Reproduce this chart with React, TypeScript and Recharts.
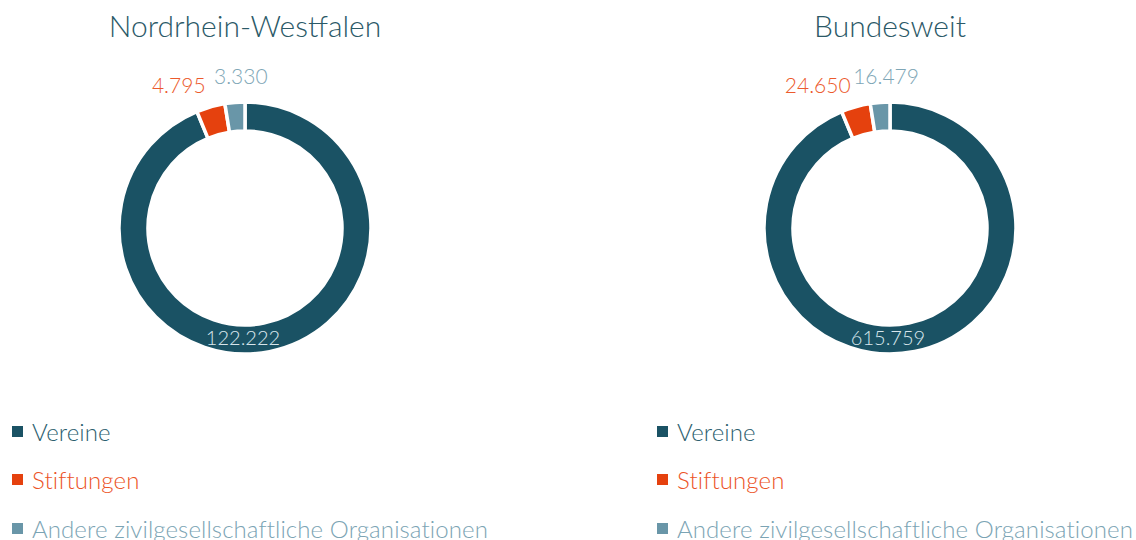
import { PieChart, Pie, Cell } from "recharts"

const categories = ["Vereine", "Stiftungen", "Andere zivilgesellschaftliche Organisationen"]
const nrwValues = [122222, 4795, 3330]
const bundValues = [615759, 24650, 16479]
const titles = ["Nordrhein-Westfalen", "Bundesweit"]

const sliceColors = ["#1a5264", "#e5410e", "#6996a8"]
const labelColors = ["#d8e6ec", "#ec5a2c", "#7ea6b6"]
const legendColors = ["#2c5e6e", "#ec5326", "#7ba4b4"]
const FONT = "Lato, 'Open Sans', sans-serif"

const RAD = Math.PI / 180

const fmt = (v: number) => v.toLocaleString("de-DE")

function SliceLabel(props: any) {
  const { cx, cy, midAngle, innerRadius, outerRadius, index, value } = props
  if (index === 0) {
    const r = (innerRadius + outerRadius) / 2
    return (
      <text x={cx - 2} y={cy + r - 3} fill={labelColors[0]} fontSize={20} fontFamily={FONT} fontWeight={300}
        textAnchor="middle" dominantBaseline="central">
        {fmt(value)}
      </text>
    )
  }
  const r = outerRadius + 26
  const x = cx + r * Math.cos(-midAngle * RAD)
  const y = cy + r * Math.sin(-midAngle * RAD)
  return (
    <text x={index === 1 ? x + 2 : x + 8} y={index === 1 ? y + 3 : y - 1} fill={labelColors[index]} fontSize={21} fontFamily={FONT} fontWeight={300}
      textAnchor={index === 1 ? "end" : "middle"} dominantBaseline="central">
      {fmt(value)}
    </text>
  )
}

const makeData = (vals: number[]) => categories.map((name, i) => ({ name, value: vals[i] }))

const panels = [
  { title: titles[0], data: makeData(nrwValues), cx: 245, legendX: 12 },
  { title: titles[1], data: makeData(bundValues), cx: 890, legendX: 657 },
]

export default function App() {
  return (
    <div style={{ position: "absolute", left: 0, top: 0, width: 1136, height: 540, background: "#fff", fontFamily: FONT, overflow: "hidden" }}>
      <div style={{ position: "absolute", left: 0, top: 0 }}>
        <PieChart width={1136} height={400} margin={{ top: 0, right: 0, bottom: 0, left: 0 }}>
          {panels.map((p, k) => (
            <Pie
              key={k}
              data={p.data}
              dataKey="value"
              nameKey="name"
              cx={p.cx}
              cy={228}
              innerRadius={97}
              outerRadius={126}
              startAngle={90}
              endAngle={-270}
              stroke="#fff"
              strokeWidth={3.5}
              label={SliceLabel}
              labelLine={false}
              isAnimationActive={false}
            >
              {p.data.map((_, i) => (
                <Cell key={i} fill={sliceColors[i]} />
              ))}
            </Pie>
          ))}
        </PieChart>
      </div>
      {panels.map((p, k) => (
        <div key={"t" + k} style={{ position: "absolute", left: p.cx - 200, width: 400, top: 7, textAlign: "center", fontSize: 30, fontWeight: 300, color: "#2b5967", lineHeight: "36px" }}>
          {p.title}
        </div>
      ))}
      {panels.map((p, k) =>
        categories.map((c, i) => (
          <div key={"l" + k + i} style={{ position: "absolute", left: p.legendX, top: 416 + i * 48.5, height: 30, display: "flex", alignItems: "center", whiteSpace: "nowrap" }}>
            <span style={{ width: 11, height: 11, background: sliceColors[i], display: "inline-block", marginRight: 9 }} />
            <span style={{ fontSize: 24, fontWeight: 300, color: legendColors[i], letterSpacing: 0.1 }}>{c}</span>
          </div>
        ))
      )}
    </div>
  )
}
